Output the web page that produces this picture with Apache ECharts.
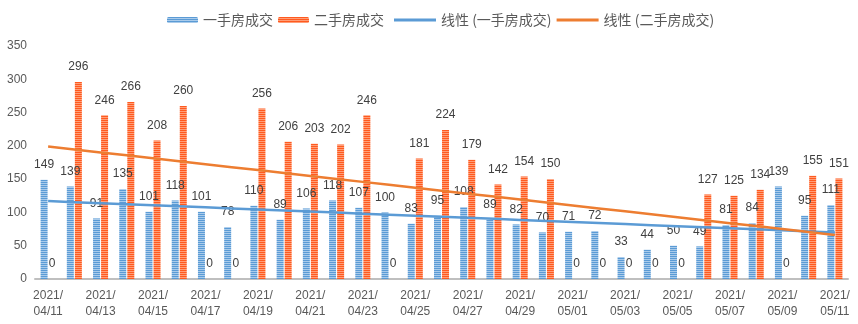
<!DOCTYPE html>
<html><head><meta charset="utf-8">
<script src="https://cdn.jsdelivr.net/npm/echarts@6/dist/echarts.min.js"></script>
<style>html,body{margin:0;padding:0;background:#fff}#c{width:858px;height:324px}</style>
</head><body><div id="c"></div>
<script>
const categories = ['2021/04/11','2021/04/12','2021/04/13','2021/04/14','2021/04/15','2021/04/16','2021/04/17','2021/04/18','2021/04/19','2021/04/20','2021/04/21','2021/04/22','2021/04/23','2021/04/24','2021/04/25','2021/04/26','2021/04/27','2021/04/28','2021/04/29','2021/04/30','2021/05/01','2021/05/02','2021/05/03','2021/05/04','2021/05/05','2021/05/06','2021/05/07','2021/05/08','2021/05/09','2021/05/10','2021/05/11'];
const newHouse = [149,139,91,135,101,118,101,78,110,89,106,118,107,100,83,95,108,89,82,70,71,72,33,44,50,49,81,84,139,95,111];
const secondHouse = [0,296,246,266,208,260,0,0,256,206,203,202,246,0,181,224,179,142,154,150,0,0,0,0,0,127,125,134,0,155,151];
const yTicks = [0,50,100,150,200,250,300,350];
const names = ['一手房成交','二手房成交','线性 (一手房成交)','线性 (二手房成交)'];

function linTrend(arr){
  const n=arr.length; let sx=0,sy=0,sxx=0,sxy=0;
  arr.forEach((y,i)=>{sx+=i;sy+=y;sxx+=i*i;sxy+=i*y;});
  const b=(n*sxy-sx*sy)/(n*sxx-sx*sx), a=(sy-b*sx)/n;
  return arr.map((_,i)=>+(a+b*i).toFixed(2));
}
function stripe(c1,c2){
  const cv=document.createElement('canvas'); cv.width=4; cv.height=2;
  const g=cv.getContext('2d'); g.fillStyle=c1; g.fillRect(0,0,4,1); g.fillStyle=c2; g.fillRect(0,1,4,1);
  return {image:cv, repeat:'repeat'};
}
const blueFill = stripe('#5b9bd5','#a9cbeb');
const orangeFill = stripe('#ff5a1f','#ff9e78');
const font = '"Liberation Sans", "Noto Sans CJK SC", sans-serif';
const chart = echarts.init(document.getElementById('c'));
chart.setOption({
  animation:false,
  textStyle:{fontFamily:font},
  legend:[{
    left:162, top:8, itemWidth:31, itemHeight:6, itemGap:5,
    textStyle:{fontSize:14, color:'#595959', fontFamily:'"Noto Sans CJK SC", sans-serif'},
    data:[names[0],names[1]]
  },{
    left:389, top:8, itemWidth:42, itemHeight:3, itemGap:5, icon:'rect',
    textStyle:{fontSize:14, color:'#595959', fontFamily:'"Noto Sans CJK SC", sans-serif'},
    data:[names[2],names[3]]
  }],
  grid:{left:35, right:10, top:46, bottom:45, containLabel:false},
  xAxis:{type:'category', data:categories, boundaryGap:true,
    axisLine:{lineStyle:{color:'#bfbfbf', width:2}}, axisTick:{show:false},
    axisLabel:{interval:1, color:'#595959', fontSize:12, lineHeight:16, margin:9,
      formatter:v=>v.slice(0,5)+'\n'+v.slice(5)}},
  yAxis:{type:'value', min:yTicks[0], max:yTicks[yTicks.length-1], interval:50,
    splitLine:{show:false}, axisLine:{show:false}, axisTick:{show:false},
    axisLabel:{color:'#595959', fontSize:12, margin:8}},
  series:[
    {name:names[0], type:'bar', data:newHouse, barWidth:7, barGap:'15%',
     itemStyle:{color:blueFill},
     label:{show:true, position:'top', distance:9, color:'#404040', fontSize:12}},
    {name:names[1], type:'bar', data:secondHouse, barWidth:7,
     itemStyle:{color:orangeFill},
     label:{show:true, position:'top', distance:9, color:'#404040', fontSize:12}},
    {name:names[2], type:'line', data:linTrend(newHouse), symbol:'none', z:5,
     lineStyle:{color:'#5b9bd5', width:2.5}, itemStyle:{color:'#5b9bd5'}},
    {name:names[3], type:'line', data:linTrend(secondHouse), symbol:'none', z:5,
     lineStyle:{color:'#ed7d31', width:2.5}, itemStyle:{color:'#ed7d31'}}
  ]
});
</script></body></html>
